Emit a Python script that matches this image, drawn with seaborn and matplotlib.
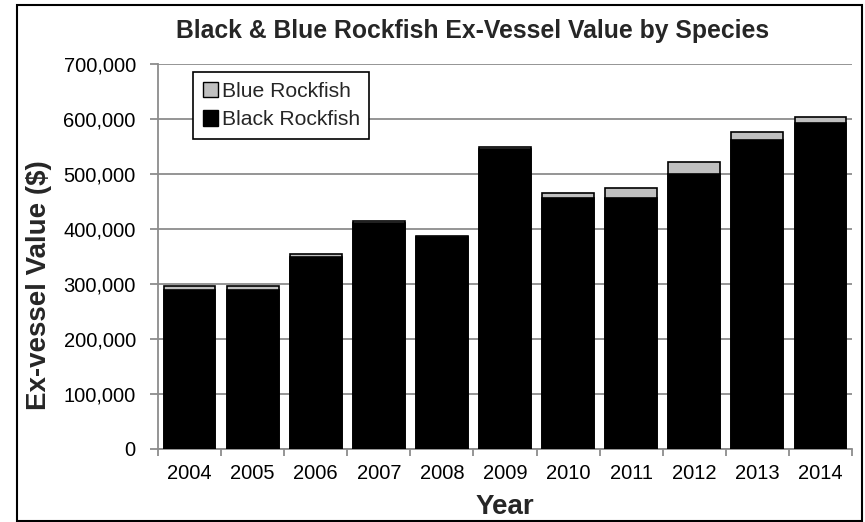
import matplotlib
matplotlib.use("Agg")
import matplotlib.pyplot as plt
import matplotlib.patches as mpatches
from matplotlib.ticker import FuncFormatter, FixedLocator
import seaborn as sns
import pandas as pd

years = ["2004", "2005", "2006", "2007", "2008", "2009", "2010", "2011", "2012", "2013", "2014"]
black_rockfish = [290000, 290000, 350000, 411000, 385000, 545000, 457000, 456000, 500000, 561000, 593000]
blue_rockfish = [7000, 7000, 5000, 4000, 3000, 4000, 9000, 19000, 22000, 15000, 10000]

df = pd.DataFrame({
    "Year": years,
    "Black": black_rockfish,
    "Total": [a + b for a, b in zip(black_rockfish, blue_rockfish)],
})

sns.set_theme(style="white")
plt.rcParams["font.family"] = ["Liberation Sans", "DejaVu Sans"]

fig = plt.figure(figsize=(8.65, 5.22), dpi=100)
ax = fig.add_axes([158 / 865, 1 - 449 / 522, (852 - 158) / 865, (449 - 64) / 522])

sns.barplot(data=df, x="Year", y="Total", color="#c0c0c0", saturation=1,
            width=0.82, edgecolor="black", linewidth=1.2, ax=ax, zorder=3)
sns.barplot(data=df, x="Year", y="Black", color="black", saturation=1,
            width=0.82, edgecolor="black", linewidth=1.2, ax=ax, zorder=3)

ax.set_ylim(0, 700000)
ax.set_xlim(-0.5, len(years) - 0.5)
ax.set_yticks(range(0, 700001, 100000))
ax.yaxis.set_major_formatter(FuncFormatter(lambda v, p: f"{int(v):,}"))
ax.grid(axis="y", color="#8c8c8c", linewidth=1.3, zorder=0)
ax.set_axisbelow(True)

for s in ["top", "right"]:
    ax.spines[s].set_visible(False)
for s in ["left", "bottom"]:
    ax.spines[s].set_color("#8c8c8c")
    ax.spines[s].set_linewidth(1.3)

ax.tick_params(axis="y", which="major", left=True, length=6, width=1.3,
               color="#8c8c8c", labelsize=14.5, labelcolor="black", pad=10)
ax.tick_params(axis="x", which="major", bottom=False, labelsize=14.5,
               labelcolor="black", pad=5)
ax.xaxis.set_minor_locator(FixedLocator([i - 0.5 for i in range(len(years) + 1)]))
ax.tick_params(axis="x", which="minor", bottom=True, length=5, width=1.3,
               color="#8c8c8c")

ax.set_xlabel("")
ax.set_ylabel("")
fig.text(505 / 865, 1 - 507 / 522, "Year", ha="center", va="center",
         fontsize=20, fontweight="bold")
fig.text(39 / 865, 1 - 285 / 522, "Ex-vessel Value ($)", ha="center", va="center",
         rotation=90, fontsize=20, fontweight="bold")
fig.text(473 / 865, 1 - 31 / 522, "Black & Blue Rockfish Ex-Vessel Value by Species",
         ha="center", va="center", fontsize=17.8, fontweight="bold")

handles = [mpatches.Patch(facecolor="#c0c0c0", edgecolor="black", linewidth=1, label="Blue Rockfish"),
           mpatches.Patch(facecolor="black", edgecolor="black", linewidth=1, label="Black Rockfish")]
leg = ax.legend(handles=handles, loc="upper left",
                bbox_to_anchor=((193 - 158) / 694, (449 - 72) / 385),
                borderaxespad=0, fontsize=15.2, frameon=True, fancybox=False,
                handlelength=0.75, handleheight=0.75, handletextpad=0.15,
                labelspacing=0.45, borderpad=0.45)
leg.get_frame().set_edgecolor("black")
leg.get_frame().set_linewidth(1.2)
leg.get_frame().set_alpha(1)

fig.patches.append(mpatches.Rectangle((17 / 865, 1 - 521 / 522), (862 - 17) / 865, (521 - 5) / 522,
                                      transform=fig.transFigure, fill=False,
                                      edgecolor="black", linewidth=1.5))

fig.savefig("out.png", dpi=100)
